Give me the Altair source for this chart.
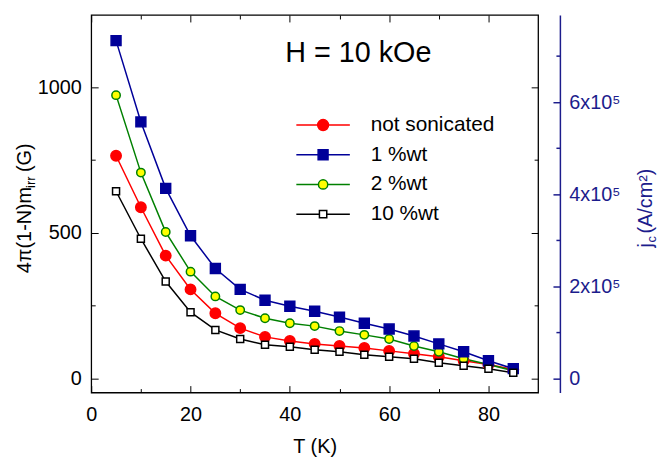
import altair as alt
import pandas as pd

# ---------------- data ----------------
T = [5, 10, 15, 20, 25, 30, 35, 40, 45, 50, 55, 60, 65, 70, 75, 80, 85]
series_names = ["not sonicated", "1 %wt", "2 %wt", "10 %wt"]
m_not_sonicated = [765, 588, 422, 306, 224, 173, 143, 129, 119, 112, 105, 95, 85, 75, 61, 48, 31]
m_1wt = [1160, 881, 653, 490, 378, 306, 269, 248, 231, 211, 190, 170, 146, 119, 92, 61, 34]
m_2wt = [973, 707, 503, 367, 282, 235, 207, 190, 180, 163, 150, 136, 112, 92, 68, 48, 27]
m_10wt = [643, 480, 333, 228, 167, 136, 116, 109, 99, 92, 82, 75, 68, 54, 44, 34, 20]

x_major = [0, 20, 40, 60, 80]
x_minor = [10, 30, 50, 70]
y_major = [0, 500, 1000]
y_minor = [250, 750]
jc_major = [0, 200000, 400000, 600000]
jc_minor = [100000, 300000, 500000, 700000]
annotation = ["H = 10 kOe"]

rows = []
for name, vals in zip(series_names, [m_not_sonicated, m_1wt, m_2wt, m_10wt]):
    for t, v in zip(T, vals):
        rows.append({"T": t, "m": v, "series": name})
df = pd.DataFrame(rows)
ann_df = pd.DataFrame({"text": annotation})

# ---------------- styles ----------------
FONT = "Liberation Sans"
LABEL_SIZE = 20
TITLE_SIZE = 20
NAVY = "#1C1C8C"
line_colors = ["#FF0000", "#000099", "#008000", "#000000"]
fill_colors = ["#FF0000", "#000099", "#FFFF00", "#FFFFFF"]
point_shapes = ["circle", "square", "circle", "square"]
point_sizes = [110, 100, 72, 50]


def circle_legend(r):
    return (f"M-2.7,0L{-r},0M{r},0L2.7,0"
            f"M{-r},0A{r},{r},0,1,0,{r},0A{r},{r},0,1,0,{-r},0Z")


def square_legend(h):
    return (f"M-2.7,0L{-h},0M{h},0L2.7,0"
            f"M{-h},{-h}L{h},{-h}L{h},{h}L{-h},{h}Z")


legend_shapes = [circle_legend(0.55), square_legend(0.5), circle_legend(0.47), square_legend(0.37)]

xs = alt.Scale(domain=[0, 90], nice=False, zero=False)
ys = alt.Scale(domain=[-48, 1248], nice=False, zero=False)
js = alt.Scale(domain=[-30100, 789000], nice=False, zero=False)


def tick_axis(orient, values, length, color="black", width=1, **kw):
    params = dict(orient=orient, values=values, offset=-length, tickSize=length,
                  tickColor=color, tickWidth=width, domain=False, grid=False,
                  labels=False, title=None)
    params.update(kw)
    return alt.Axis(**params)


def title_kw(text, size, color, tx, ty):
    return dict(title=text, titleFont=FONT, titleFontSize=size, titleFontWeight="normal",
                titleColor=color, titleAngle=270, titleAlign="left",
                titleBaseline="alphabetic", titleX=tx, titleY=ty)


def guide(x_axis, y_axis, y_scale):
    return alt.Chart(df).transform_filter("false").mark_point(opacity=0).encode(
        x=alt.X("T:Q", scale=xs, axis=x_axis),
        y=alt.Y("m:Q", scale=y_scale, axis=y_axis),
    )


# ---------------- main axes ----------------
x_bottom = alt.Axis(orient="bottom", values=x_major, offset=-7, tickSize=7, tickColor="black",
                    tickWidth=1, domain=False, grid=False, labelFont=FONT, labelFontSize=LABEL_SIZE,
                    labelColor="black", labelPadding=12, labelFlush=False, format="d",
                    title="T (K)", titleFont=FONT, titleFontSize=TITLE_SIZE, titleFontWeight="normal",
                    titleColor="black", titleAlign="center", titleBaseline="alphabetic",
                    titleX=225.5, titleY=68)
y_left = alt.Axis(orient="left", values=y_major, offset=-7, tickSize=7, tickColor="black",
                  tickWidth=1, domain=False, grid=False, labelFont=FONT, labelFontSize=LABEL_SIZE,
                  labelColor="black", labelPadding=10, format="d",
                  **title_kw("4π(1-N)m", TITLE_SIZE, "black", -68, 260))

lines = alt.Chart(df).mark_line(strokeWidth=1.5).encode(
    x=alt.X("T:Q", scale=xs, axis=x_bottom),
    y=alt.Y("m:Q", scale=ys, axis=y_left),
    stroke=alt.Stroke("series:N", scale=alt.Scale(domain=series_names, range=line_colors), legend=None),
)

points = []
for i in [0, 2, 1, 3]:
    points.append(
        alt.Chart(df).transform_filter(alt.datum.series == series_names[i]).mark_point(
            filled=True, opacity=1, shape=point_shapes[i], size=point_sizes[i],
            fill=fill_colors[i], stroke=line_colors[i], strokeWidth=1.5,
        ).encode(
            x=alt.X("T:Q", scale=xs, axis=None),
            y=alt.Y("m:Q", scale=ys, axis=None),
        )
    )

# inward frame ticks
frame_major = guide(tick_axis("top", x_major, 7), tick_axis("right", y_major, 7), ys)
frame_minor_a = guide(tick_axis("bottom", x_minor, 4),
                      tick_axis("left", y_minor, 4, **title_kw("irr", 13, "black", -61, 174)), ys)
frame_minor_b = guide(tick_axis("top", x_minor, 4), tick_axis("right", y_minor, 4), ys)
g_title = guide(None, alt.Axis(orient="left", offset=0, ticks=False, tickSize=0, labels=False,
                               domain=False, grid=False,
                               **title_kw("(G)", TITLE_SIZE, "black", -61, 158)), ys)

# right-hand j_c axis
jc_main = guide(None, alt.Axis(orient="right", values=jc_major, offset=22, domain=True,
                               domainColor=NAVY, domainWidth=1.5, ticks=False, tickSize=0,
                               grid=False, labelFont=FONT, labelFontSize=LABEL_SIZE,
                               labelColor=NAVY, labelPadding=9,
                               labelExpr="datum.value == 0 ? '0' : format(datum.value / 100000, 'd') + 'x10⁵'",
                               **title_kw("j", TITLE_SIZE, NAVY, 92, 234)), js)
jc_ticks_major = guide(None, alt.Axis(orient="right", values=jc_major, offset=15, tickSize=7,
                                      tickColor=NAVY, tickWidth=1.5, domain=False, grid=False,
                                      labels=False,
                                      **title_kw("c", 13, NAVY, 103, 229)), js)
jc_ticks_minor = guide(None, alt.Axis(orient="right", values=jc_minor, offset=18, tickSize=4,
                                      tickColor=NAVY, tickWidth=1.5, domain=False, grid=False,
                                      labels=False,
                                      **title_kw("(A/cm²)", TITLE_SIZE, NAVY, 96, 220)), js)

# annotation
ann = alt.Chart(ann_df).mark_text(font=FONT, fontSize=29, align="center", baseline="alphabetic",
                                  color="black").encode(
    x=alt.XDatum(53.8, scale=xs, axis=None),
    y=alt.YDatum(1088, scale=ys, axis=None),
    text="text:N",
)

# legend
lg = alt.Legend(orient="none", legendX=223, legendY=100, padding=0, title=None,
                labelFont=FONT, labelFontSize=21, labelColor="black", labelOffset=37,
                symbolSize=400, symbolStrokeWidth=1.5, rowPadding=9, labelLimit=300)
legend_layer = alt.Chart(df).transform_filter("false").mark_point(
    filled=True, opacity=1, strokeWidth=1.5).encode(
    shape=alt.Shape("series:N", scale=alt.Scale(domain=series_names, range=legend_shapes), legend=lg),
    fill=alt.Fill("series:N", scale=alt.Scale(domain=series_names, range=fill_colors), legend=lg),
    stroke=alt.Stroke("series:N", scale=alt.Scale(domain=series_names, range=line_colors), legend=lg),
)

chart = alt.layer(
    lines, *points, frame_major, frame_minor_a, frame_minor_b, g_title,
    jc_main, jc_ticks_major, jc_ticks_minor, ann, legend_layer,
).resolve_scale(
    y="independent", fill="independent", stroke="independent", shape="independent",
).resolve_axis(
    x="independent", y="independent",
).properties(
    width=451, height=381,
    padding={"left": 84, "top": 5, "right": 121, "bottom": 66},
    autosize=alt.AutoSizeParams(type="none"),
).configure(font=FONT).configure_view(stroke="black", strokeWidth=1.3)

chart.save("out.html", embed_options={"renderer": "svg", "actions": False})
